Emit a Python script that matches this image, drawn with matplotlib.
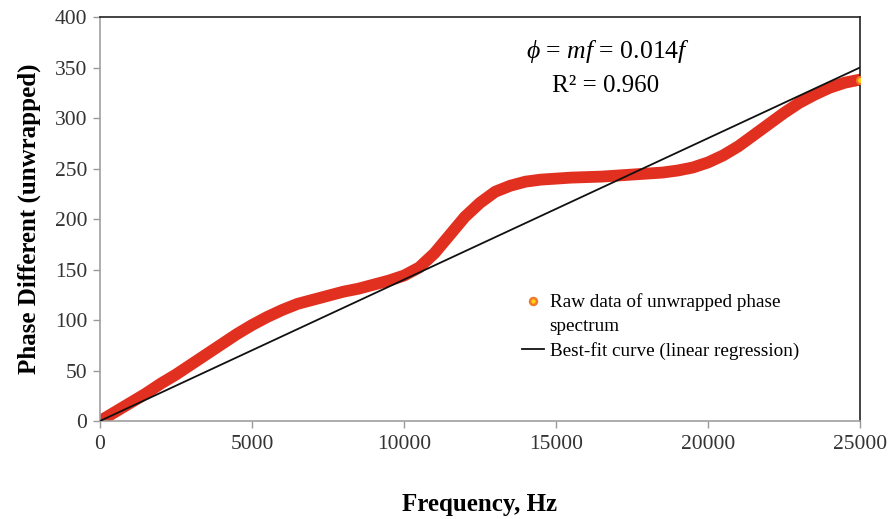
import matplotlib
matplotlib.use("Agg")
import matplotlib.pyplot as plt
from matplotlib.lines import Line2D
import numpy as np

# ---- data ----
freq = [0, 500, 1000, 1500, 2000, 2500, 3000, 3500, 4000, 4500,
        5000, 5500, 6000, 6500, 7000, 7500, 8000, 8500, 9000, 9500,
        10000, 10500, 11000, 11500, 12000, 12500, 13000, 13500, 14000, 14500,
        15000, 15500, 16000, 16500, 17000, 17500, 18000, 18500, 19000, 19500,
        20000, 20500, 21000, 21500, 22000, 22500, 23000, 23500, 24000, 24500,
        25000]
phase = [0, 9, 18, 27, 37, 46, 56, 66, 76, 86,
         95, 103, 110, 116, 120, 124, 128, 131, 135, 139,
         144, 152, 166, 184, 202, 216, 227, 233, 237, 239,
         240, 241, 241.5, 242, 243, 244, 245, 246, 248, 251,
         256, 263, 272, 283, 294, 305, 315, 323, 330, 335,
         338]
slope_m = 0.014
r_squared = 0.960
x_ticks = [0, 5000, 10000, 15000, 20000, 25000]
y_ticks = [0, 50, 100, 150, 200, 250, 300, 350, 400]

plt.rcParams['font.family'] = ['Liberation Serif', 'DejaVu Serif']
plt.rcParams['mathtext.fontset'] = 'custom'
plt.rcParams['mathtext.rm'] = 'Liberation Serif'
plt.rcParams['mathtext.it'] = 'Liberation Serif:italic'

fig = plt.figure(figsize=(8.91, 5.19), dpi=100)
ax = fig.add_axes([0.1122, 0.1888, 0.8530, 0.7784])

red = '#e1301f'
ax.plot(freq, phase, color=red, lw=8.5, solid_capstyle='round', zorder=2)
ax.plot([freq[-1]], [phase[-1]], 'o', ms=5, mfc='#ffd21a', mec='#f07a2a', mew=1.5, zorder=4)

fx = np.array([freq[0], freq[-1]])
ax.plot(fx, slope_m * fx, color='#111111', lw=1.3, zorder=3)

ax.set_xlim(0, 25000)
ax.set_ylim(0, 400)
ax.set_xticks(x_ticks)
ax.set_yticks(y_ticks)
ax.tick_params(axis='both', labelsize=15.5, colors='#333333', direction='out', length=5, width=1)
ax.tick_params(axis='x', pad=5, color='#999999')
ax.tick_params(axis='y', pad=4, color='#999999')

for s in ['left', 'bottom']:
    ax.spines[s].set_color('#a0a0a0')
    ax.spines[s].set_linewidth(1.2)
for s in ['top', 'right']:
    ax.spines[s].set_color('#222222')
    ax.spines[s].set_linewidth(1.2)

ax.set_xlabel('Frequency, Hz', fontsize=18, fontweight='bold', labelpad=28)
ax.set_ylabel('Phase Different (unwrapped)', fontsize=18, fontweight='bold', labelpad=10)

ax.text(0.668, 0.915, r'$\phi$ = $mf$ = 0.014$f$', transform=ax.transAxes,
        fontsize=18.5, ha='center', va='center')
ax.text(0.665, 0.830, 'R² = %.3f' % r_squared, transform=ax.transAxes,
        fontsize=18, ha='center', va='center')

h1 = Line2D([], [], ls='none', marker='o', ms=5, mfc='#ffd21a', mec='#f07a2a', mew=1.8)
h2 = Line2D([], [], ls='none')
h3 = Line2D([], [], color='#111111', lw=1.3)
ax.legend([h1, h2, h3], ['Raw data of unwrapped phase', 'spectrum', 'Best-fit curve (linear regression)'],
          loc='upper left', bbox_to_anchor=(0.545, 0.335), frameon=False, fontsize=13.8,
          handlelength=1.15, handletextpad=0.3, labelspacing=0.35, borderaxespad=0)

fig.savefig('out.png', dpi=100)
